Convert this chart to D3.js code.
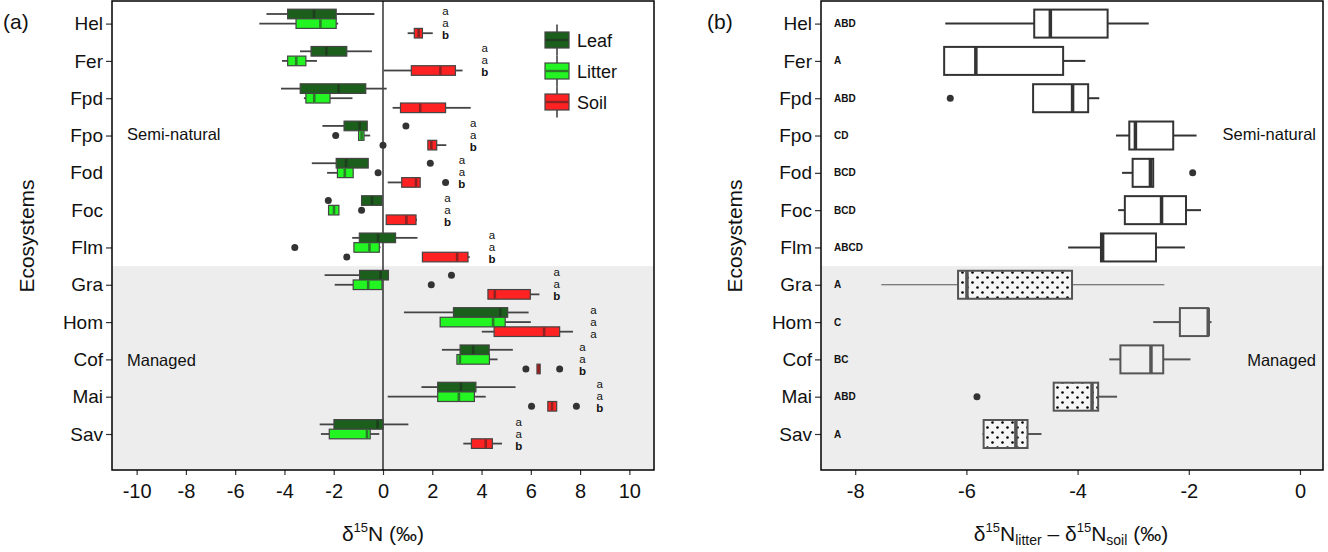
<!DOCTYPE html>
<html><head><meta charset="utf-8">
<script src="https://cdn.jsdelivr.net/npm/d3@7"></script>
<style>
body{margin:0;background:#fff}
svg{display:block}
text{font-family:"Liberation Sans",Arial,sans-serif}
</style>
</head><body>
<svg id="chart" width="1328" height="552"></svg>
<script>
// ---------------- DATA ----------------
const categories = ["Hel","Fer","Fpd","Fpo","Fod","Foc","Flm","Gra","Hom","Cof","Mai","Sav"];
const managedCategories = ["Gra","Hom","Cof","Mai","Sav"];
const seriesNames = ["Leaf","Litter","Soil"];

// box stats per category: [min, q1, median, q3, max]  (δ15N, ‰)
const leafStats = [
  [-4.73,-3.87,-2.80,-1.90,-0.35],
  [-3.37,-2.92,-2.30,-1.47,-0.45],
  [-4.14,-3.36,-1.80,-0.70, 0.15],
  [-2.46,-1.58,-0.95,-0.64,-0.64],
  [-2.89,-1.90,-1.50,-0.60,-0.60],
  [-0.87,-0.87,-0.45,-0.04,-0.04],
  [-1.25,-0.96,-0.20, 0.51, 1.40],
  [-2.37,-0.95,-0.10, 0.22, 0.22],
  [ 0.85, 2.86, 4.76, 5.06, 5.91],
  [ 2.39, 3.13, 3.66, 4.31, 5.27],
  [ 1.56, 2.22, 3.16, 3.77, 5.38],
  [-2.57,-1.99,-0.22, 0.00, 1.03]
];
const litterStats = [
  [-5.02,-3.53,-2.54,-1.90,-1.82],
  [-4.10,-3.87,-3.52,-3.13,-2.68],
  [-3.21,-3.13,-2.79,-2.15,-1.24],
  [-0.99,-0.99,-0.87,-0.77,-0.52],
  [-2.27,-1.85,-1.55,-1.21,-1.21],
  [-2.21,-2.21,-1.99,-1.79,-1.79],
  [-1.18,-1.18,-0.55,-0.15,-0.10],
  [-1.96,-1.21,-0.60,-0.04,-0.04],
  [ 2.32, 2.32, 4.47, 4.96, 6.00],
  [ 3.00, 3.00, 3.12, 4.32, 4.65],
  [ 0.19, 2.22, 3.08, 3.71, 4.17],
  [-2.52,-2.18,-0.65,-0.52,-0.15]
];
const soilStats = [
  [ 1.00, 1.27, 1.45, 1.60, 2.02],
  [ 0.03, 1.15, 2.33, 2.94, 3.23],
  [ 0.39, 0.71, 1.51, 2.54, 3.56],
  [ 1.82, 1.82, 1.96, 2.18, 2.57],
  [ 0.19, 0.76, 1.34, 1.51, 1.51],
  [ 0.13, 0.13, 0.95, 1.34, 1.38],
  [ 1.60, 1.60, 3.01, 3.45, 3.52],
  [ 4.26, 4.26, 4.54, 5.98, 6.35],
  [ 4.01, 4.51, 6.54, 7.17, 7.71],
  [ 6.25, 6.25, 6.32, 6.38, 6.38],
  [ 6.69, 6.69, 6.86, 7.05, 7.05],
  [ 3.26, 3.59, 4.17, 4.44, 4.83]
];
// outliers: [category, value]
const leafOutliers   = [["Fpo",0.93],["Fod",1.92],["Foc",-2.22],["Gra",2.78]];
const litterOutliers = [["Fpo",-1.92],["Fod",-0.20],["Foc",-0.87],["Flm",-3.58],["Gra",1.96]];
const soilOutliers   = [["Fpo",0.00],["Fod",2.54],["Flm",-1.47],["Cof",5.80],["Cof",7.17],["Mai",6.03],["Mai",7.85]];

// significance letters (panel a): x position (‰) and letters for Leaf/Litter/Soil
const letterX = [2.54,4.13,null,3.66,3.20,2.62,4.42,7.05,8.54,8.10,8.80,5.51];
const letterText = [["a","a","b"],["a","a","b"],null,["a","a","b"],["a","a","b"],["a","a","b"],["a","a","b"],
                    ["a","a","b"],["a","a","a"],["a","a","b"],["a","a","b"],["a","a","b"]];

// panel b: δ15N litter − δ15N soil
const diffStats = [
  [-6.38,-4.78,-4.49,-3.46,-2.72],
  [-6.40,-6.40,-5.83,-4.26,-3.86],
  [-4.80,-4.80,-4.09,-3.81,-3.61],
  [-3.31,-3.07,-2.96,-2.28,-1.86],
  [-3.20,-3.01,-2.69,-2.64,-2.64],
  [-3.27,-3.15,-2.49,-2.05,-1.78],
  [-4.17,-3.58,-3.55,-2.59,-2.07],
  [-7.53,-6.15,-5.99,-4.10,-2.44],
  [-2.64,-2.16,-1.65,-1.65,-1.59],
  [-3.43,-3.23,-2.68,-2.46,-1.97],
  [-4.43,-4.43,-3.74,-3.63,-3.29],
  [-5.71,-5.69,-5.11,-4.90,-4.65]
];
const diffOutliers = [["Fpd",-6.29],["Fod",-1.93],["Mai",-5.81]];
const diffLetters = ["ABD","A","ABD","CD","BCD","BCD","ABCD","A","C","BC","ABD","A"];
const stippledCategories = ["Gra","Mai","Sav"];

const xTicksA = [-10,-8,-6,-4,-2,0,2,4,6,8,10];
const xTicksB = [-8,-6,-4,-2,0];

// ---------------- DRAWING ----------------
const svg = d3.select("#chart");
const FONT = '"Liberation Sans",Arial,sans-serif';
const colors = {Leaf:"#1c5f1c", Litter:"#22f522", Soil:"#ff2222"};
const medColors = {Leaf:"#1d3f1d", Litter:"#2a7a2a", Soil:"#8c2222"};

const plotTop = 1, plotBottom = 470;
const yPos = d3.scalePoint().domain(categories).range([23.6, 434]);
const step = yPos.step();
const managedTop = yPos(managedCategories[0]) - step/2;

const defs = svg.append("defs");
const pat = defs.append("pattern").attr("id","dots").attr("patternUnits","userSpaceOnUse")
  .attr("width",10).attr("height",10);
pat.append("rect").attr("width",10).attr("height",10).attr("fill","#f6f6f6");
pat.append("circle").attr("cx",2.5).attr("cy",2.5).attr("r",1.3).attr("fill","#000");
pat.append("circle").attr("cx",7.5).attr("cy",7.5).attr("r",1.3).attr("fill","#000");

function panelFrame(x0, x1, xScale, ticks, noTickCats){
  const g = svg.append("g");
  g.append("rect").attr("x",x0).attr("y",plotTop).attr("width",x1-x0).attr("height",plotBottom-plotTop).attr("fill","#fff");
  g.append("rect").attr("x",x0).attr("y",managedTop).attr("width",x1-x0).attr("height",plotBottom-managedTop).attr("fill","#ededed");
  const ya = g.append("g").attr("transform",`translate(${x0},0)`)
    .call(d3.axisLeft(yPos).tickSize(6).tickPadding(3));
  ya.select(".domain").remove();
  ya.selectAll("line").attr("stroke","#333").attr("stroke-width",1.2);
  ya.selectAll("text").attr("font-size",19).attr("font-family",FONT).attr("fill","#111");
  if(noTickCats) ya.selectAll(".tick").filter(d=>noTickCats.includes(d)).select("line").remove();
  const xa = g.append("g").attr("transform",`translate(0,${plotBottom})`)
    .call(d3.axisBottom(xScale).tickValues(ticks).tickSize(5).tickPadding(9).tickFormat(d=>String(d)));
  xa.select(".domain").remove();
  xa.selectAll("line").attr("stroke","#333").attr("stroke-width",1.2);
  xa.selectAll("text").attr("font-size",20).attr("font-family",FONT).attr("fill","#111");
  return g;
}
function panelBorder(x0,x1){
  svg.append("rect").attr("x",x0).attr("y",plotTop).attr("width",x1-x0).attr("height",plotBottom-plotTop)
    .attr("fill","none").attr("stroke","#000").attr("stroke-width",1.5);
}

// ---------- Panel (a) ----------
const xA = d3.scaleLinear().domain([-11,11]).range([112,654]);
panelFrame(112,654,xA,xTicksA,["Fod","Foc"]);
const gA = svg.append("g");
gA.append("line").attr("x1",xA(0)).attr("x2",xA(0)).attr("y1",plotTop).attr("y2",plotBottom)
  .attr("stroke","#000").attr("stroke-width",1.2);

const dodge = d3.scaleBand().domain(seriesNames).range([-14.4,14.4]).paddingInner(0);
const bh = dodge.bandwidth();
const statsBySeries = {Leaf:leafStats, Litter:litterStats, Soil:soilStats};
const outBySeries = {Leaf:leafOutliers, Litter:litterOutliers, Soil:soilOutliers};

seriesNames.forEach(s=>{
  const g = gA.append("g");
  const data = statsBySeries[s].map((v,i)=>({cat:categories[i], v}));
  data.forEach(d=>{
    const cy = yPos(d.cat) + dodge(s) + bh/2;
    const [mn,q1,md,q3,mx] = d.v;
    g.append("line").attr("x1",xA(mn)).attr("x2",xA(q1)).attr("y1",cy).attr("y2",cy)
      .attr("stroke","#444").attr("stroke-width",1.8);
    g.append("line").attr("x1",xA(q3)).attr("x2",xA(mx)).attr("y1",cy).attr("y2",cy)
      .attr("stroke","#444").attr("stroke-width",1.8);
    g.append("rect").attr("x",xA(q1)).attr("y",cy-bh/2).attr("width",Math.max(1.5,xA(q3)-xA(q1))).attr("height",bh)
      .attr("fill",colors[s]).attr("stroke","#444").attr("stroke-width",1.2);
    g.append("line").attr("x1",xA(md)).attr("x2",xA(md)).attr("y1",cy-bh/2+0.6).attr("y2",cy+bh/2-0.6)
      .attr("stroke",medColors[s]).attr("stroke-width",2.6);
  });
  g.selectAll("circle").data(outBySeries[s]).join("circle")
    .attr("cx",d=>xA(d[1])).attr("cy",d=>yPos(d[0])+dodge(s)+bh/2).attr("r",3.5).attr("fill","#333");
});

categories.forEach((c,i)=>{
  if(letterX[i]===null) return;
  letterText[i].forEach((t,j)=>{
    gA.append("text").attr("x",xA(letterX[i])).attr("y",yPos(c)+(j-1)*12 + 3.5)
      .attr("text-anchor","middle").attr("font-size",11.5).attr("font-family",FONT)
      .attr("font-weight", t==="b" ? "bold" : "normal").attr("fill","#111").text(t);
  });
});

gA.append("text").attr("x",127).attr("y",140).attr("font-size",16.5).attr("fill","#111").attr("font-family",FONT).text("Semi-natural");
gA.append("text").attr("x",127).attr("y",366).attr("font-size",16.5).attr("fill","#111").attr("font-family",FONT).text("Managed");

const lg = gA.append("g");
seriesNames.forEach((s,i)=>{
  const cy = 40 + i*31;
  lg.append("line").attr("x1",557).attr("x2",557).attr("y1",cy-15.5).attr("y2",cy+15.5)
    .attr("stroke","#444").attr("stroke-width",1.6);
  lg.append("rect").attr("x",545).attr("y",cy-8).attr("width",24).attr("height",16)
    .attr("fill",colors[s]).attr("stroke","#444").attr("stroke-width",1.2);
  lg.append("line").attr("x1",545.6).attr("x2",568.4).attr("y1",cy).attr("y2",cy)
    .attr("stroke",medColors[s]).attr("stroke-width",2.4);
  lg.append("text").attr("x",577).attr("y",cy+6.5).attr("font-size",18).attr("fill","#111")
    .attr("font-family",FONT).text(s);
});
panelBorder(112,654);

// ---------- Panel (b) ----------
const xB = d3.scaleLinear().domain([-8.615,0.414]).range([821,1323]);
panelFrame(821,1323,xB,xTicksB,null);
const gB = svg.append("g");
const bhB = 28;
diffStats.forEach((v,i)=>{
  const c = categories[i];
  const cy = yPos(c);
  const [mn,q1,md,q3,mx] = v;
  const managed = managedCategories.includes(c);
  const stroke = managed ? "#555" : "#333";
  const ww = c==="Gra" ? 1 : 2;
  gB.append("line").attr("x1",xB(mn)).attr("x2",xB(q1)).attr("y1",cy).attr("y2",cy).attr("stroke",stroke).attr("stroke-width",ww);
  gB.append("line").attr("x1",xB(q3)).attr("x2",xB(mx)).attr("y1",cy).attr("y2",cy).attr("stroke",stroke).attr("stroke-width",ww);
  const fill = stippledCategories.includes(c) ? "url(#dots)" : (managed ? "#efefef" : "#fff");
  gB.append("rect").attr("x",xB(q1)).attr("y",cy-bhB/2).attr("width",xB(q3)-xB(q1)).attr("height",bhB)
    .attr("fill",fill).attr("stroke",stroke).attr("stroke-width",2);
  gB.append("line").attr("x1",xB(md)).attr("x2",xB(md)).attr("y1",cy-bhB/2).attr("y2",cy+bhB/2)
    .attr("stroke",stroke).attr("stroke-width",3.5);
  gB.append("text").attr("x",834).attr("y",cy+3.5).attr("font-size",10).attr("font-weight","bold")
    .attr("font-family",FONT).attr("fill","#111").text(diffLetters[i]);
});
gB.selectAll("circle").data(diffOutliers).join("circle")
  .attr("cx",d=>xB(d[1])).attr("cy",d=>yPos(d[0])).attr("r",3.5).attr("fill","#333");
gB.append("text").attr("x",1316).attr("y",140).attr("text-anchor","end").attr("font-size",16.5).attr("fill","#111").attr("font-family",FONT).text("Semi-natural");
gB.append("text").attr("x",1316).attr("y",366).attr("text-anchor","end").attr("font-size",16.5).attr("fill","#111").attr("font-family",FONT).text("Managed");
panelBorder(821,1323);

// ---------- titles ----------
function ecoLabel(x){
  svg.append("text").attr("transform",`translate(${x},236) rotate(-90)`).attr("text-anchor","middle")
    .attr("font-size",21).attr("font-family",FONT).attr("fill","#111").text("Ecosystems");
}
ecoLabel(34); ecoLabel(742);
svg.append("text").attr("x",3).attr("y",29).attr("font-size",21).attr("font-family",FONT).attr("fill","#111").text("(a)");
svg.append("text").attr("x",707).attr("y",29).attr("font-size",21).attr("font-family",FONT).attr("fill","#111").text("(b)");

const tA = svg.append("text").attr("x",xA(0)).attr("y",541).attr("text-anchor","middle")
  .attr("font-size",21).attr("font-family",FONT).attr("fill","#111");
tA.append("tspan").text("δ");
tA.append("tspan").attr("font-size",13).attr("dy",-9).text("15");
tA.append("tspan").attr("dy",9).text("N (‰)");

const tB = svg.append("text").attr("x",1071).attr("y",541).attr("text-anchor","middle")
  .attr("font-size",21).attr("font-family",FONT).attr("fill","#111");
tB.append("tspan").text("δ");
tB.append("tspan").attr("font-size",13).attr("dy",-9).text("15");
tB.append("tspan").attr("dy",9).text("N");
tB.append("tspan").attr("font-size",14).attr("dy",4).text("litter");
tB.append("tspan").attr("dy",-4).text(" – δ");
tB.append("tspan").attr("font-size",13).attr("dy",-9).text("15");
tB.append("tspan").attr("dy",9).text("N");
tB.append("tspan").attr("font-size",14).attr("dy",4).text("soil");
tB.append("tspan").attr("dy",-4).text(" (‰)");
</script>
</body></html>
